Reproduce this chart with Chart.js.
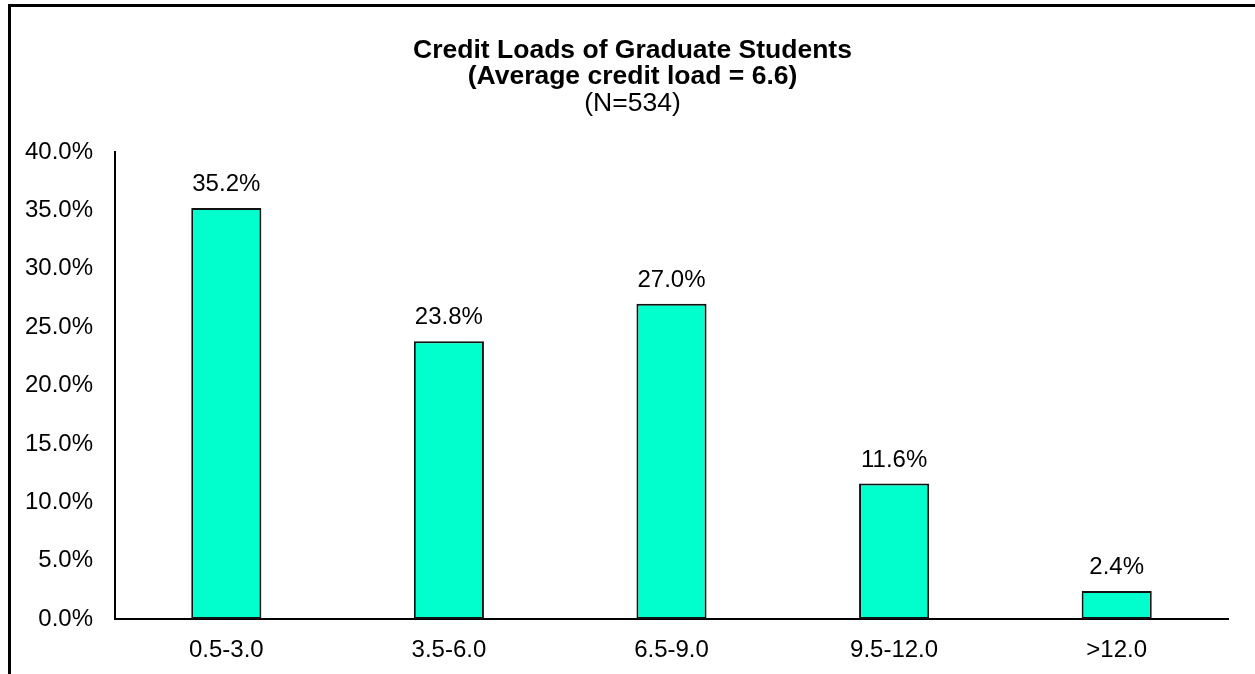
<!DOCTYPE html>
<html>
<head>
<meta charset="utf-8">
<script src="https://cdn.jsdelivr.net/npm/chart.js@4"></script>
<style>
  html, body { margin: 0; padding: 0; background: #fff; }
  #wrap { width: 1255px; height: 674px; position: relative; }
</style>
</head>
<body>
<div id="wrap"><canvas id="creditChart"></canvas></div>
<script>
var categories = ["0.5-3.0", "3.5-6.0", "6.5-9.0", "9.5-12.0", ">12.0"];
var percentValues = [35.2, 23.8, 27.0, 11.6, 2.4];
var titleLines = ["Credit Loads of Graduate Students", "(Average credit load = 6.6)"];
var subtitleText = "(N=534)";

var FONT = "Arial, 'Liberation Sans', sans-serif";

// outer frame like the excel chart border (only top + left are in view)
var framePlugin = {
  id: "frame",
  beforeDraw: function (chart) {
    var ctx = chart.ctx;
    ctx.save();
    ctx.strokeStyle = "#000";
    ctx.lineWidth = 3;
    ctx.beginPath();
    ctx.moveTo(9.5, chart.height);
    ctx.lineTo(9.5, 5.5);
    ctx.lineTo(chart.width, 5.5);
    ctx.stroke();
    ctx.restore();
  },
};

// value labels above the bars
var valueLabels = {
  id: "valueLabels",
  afterDatasetsDraw: function (chart) {
    var ctx = chart.ctx;
    var meta = chart.getDatasetMeta(0);
    ctx.save();
    ctx.font = "24px " + FONT;
    ctx.fillStyle = "#000";
    ctx.textAlign = "center";
    ctx.textBaseline = "alphabetic";
    meta.data.forEach(function (bar, i) {
      var v = chart.data.datasets[0].data[i];
      ctx.fillText(v.toFixed(1) + "%", bar.x, bar.y - 17);
    });
    ctx.restore();
  },
};

var ctx = document.getElementById("creditChart").getContext("2d");

new Chart(ctx, {
  type: "bar",
  data: {
    labels: categories,
    datasets: [
      {
        data: percentValues,
        backgroundColor: "#00FFCC",
        borderColor: "#111",
        borderWidth: 2,
        borderSkipped: false,
        categoryPercentage: 1,
        barPercentage: 0.315,
      },
    ],
  },
  options: {
    responsive: true,
    maintainAspectRatio: false,
    animation: false,
    layout: {
      padding: { left: 10, right: 0, top: 0, bottom: 0 },
    },
    plugins: {
      legend: { display: false },
      tooltip: { enabled: false },
      title: {
        display: true,
        text: titleLines,
        color: "#000",
        font: { family: FONT, size: 26.5, weight: "bold", lineHeight: 1.0 },
        padding: { top: 37, bottom: 0 },
      },
      subtitle: {
        display: true,
        text: subtitleText,
        color: "#000",
        font: { family: FONT, size: 26.5, weight: "normal", lineHeight: 1.0 },
        padding: { top: 0, bottom: 35.5 },
      },
    },
    scales: {
      x: {
        grid: { display: false, drawTicks: false },
        border: { display: true, color: "#000", width: 2 },
        ticks: {
          color: "#000",
          font: { family: FONT, size: 24 },
          padding: 17,
          maxRotation: 0,
        },
        afterFit: function (scale) {
          scale.height = 55;
        },
      },
      y: {
        min: 0,
        max: 40,
        grid: { display: false, drawTicks: false },
        border: { display: true, color: "#000", width: 2 },
        ticks: {
          stepSize: 5,
          color: "#000",
          font: { family: FONT, size: 24 },
          padding: 22,
          callback: function (v) {
            return v.toFixed(1) + "%";
          },
        },
        afterFit: function (scale) {
          scale.width = 105;
        },
      },
      // empty spacer on the right so the title stays centred on the whole frame
      spacer: {
        type: "linear",
        position: "right",
        display: true,
        grid: { display: false, drawTicks: false },
        border: { display: false },
        ticks: { display: false },
        afterFit: function (scale) {
          scale.width = 27;
        },
      },
    },
  },
  plugins: [framePlugin, valueLabels],
});
</script>
</body>
</html>
